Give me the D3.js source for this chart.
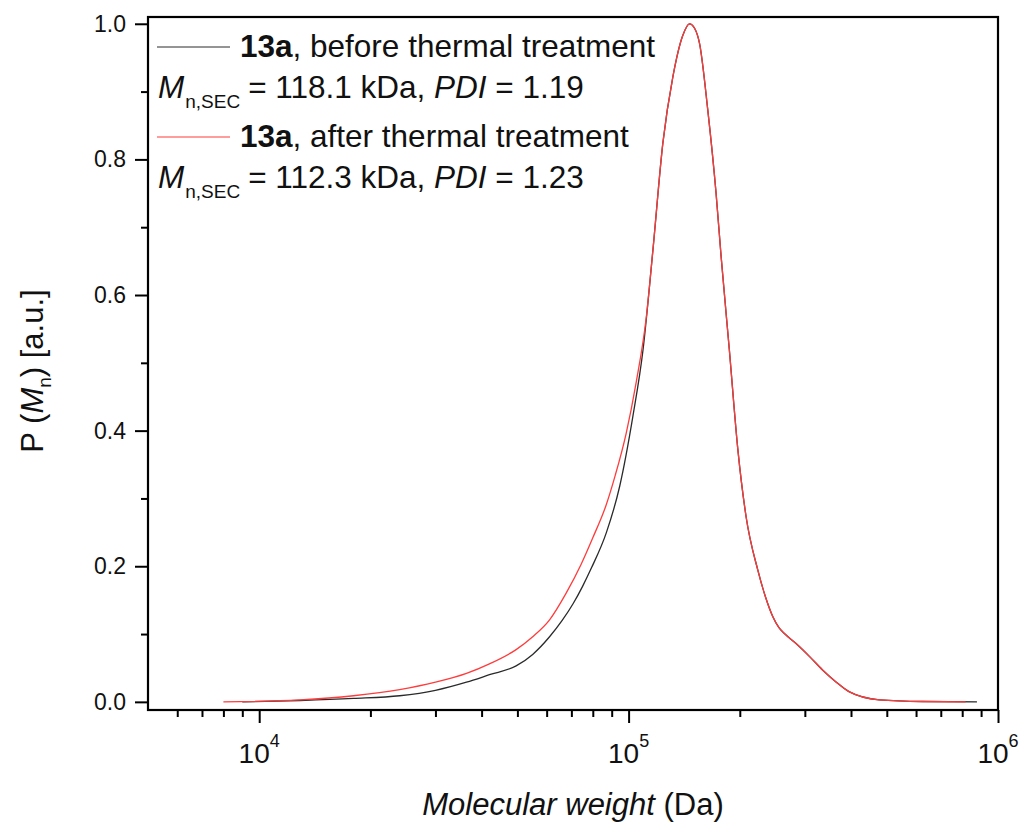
<!DOCTYPE html>
<html>
<head>
<meta charset="utf-8">
<script src="https://cdn.jsdelivr.net/npm/d3@7"></script>
<style>
  body { margin: 0; background: #fff; }
  svg { font-family: "Liberation Sans", Arial, sans-serif; }
</style>
</head>
<body>
<svg width="1021" height="824"></svg>
<script>
// molecular weight (Da) and normalised P(Mn)
var mwBefore = [9000, 12900, 18000, 24000, 30000, 36400, 42000, 49600, 55000, 61100, 66100, 70800, 75000, 79400, 87100, 94600, 102700, 109400, 116400, 123800, 131800, 140000, 146200, 151000, 155600, 163800, 172500, 178000, 187400, 197600, 208000, 223600, 235000, 245600, 255000, 265000, 284000, 310000, 335000, 365000, 395000, 477000, 624000, 877000];
var pBefore  = [0.000, 0.002, 0.005, 0.009, 0.017, 0.029, 0.040, 0.053, 0.070, 0.096, 0.120, 0.145, 0.170, 0.198, 0.250, 0.318, 0.421, 0.519, 0.667, 0.824, 0.922, 0.982, 1.000, 0.993, 0.971, 0.873, 0.750, 0.657, 0.519, 0.372, 0.273, 0.195, 0.154, 0.126, 0.110, 0.100, 0.086, 0.066, 0.047, 0.029, 0.015, 0.003, 0.0005, 0.000];

var mwAfter = [8000, 12900, 18000, 24000, 30000, 36400, 42000, 49600, 55000, 61100, 67700, 74400, 80000, 86900, 92000, 98400, 104900, 111700, 116400, 123800, 131800, 140000, 146200, 151000, 155600, 163800, 172500, 178000, 187400, 197600, 208000, 223600, 235000, 245600, 255000, 265000, 284000, 310000, 335000, 365000, 395000, 477000, 624000, 817000];
var pAfter  = [0.000, 0.003, 0.009, 0.018, 0.029, 0.042, 0.056, 0.077, 0.096, 0.121, 0.160, 0.203, 0.242, 0.290, 0.334, 0.395, 0.472, 0.568, 0.667, 0.824, 0.922, 0.982, 1.000, 0.993, 0.971, 0.873, 0.750, 0.657, 0.519, 0.372, 0.273, 0.195, 0.154, 0.126, 0.110, 0.100, 0.086, 0.066, 0.047, 0.029, 0.015, 0.003, 0.0005, 0.000];

var yMajor = [0, 0.2, 0.4, 0.6, 0.8, 1.0];
var yMinor = [0.1, 0.3, 0.5, 0.7, 0.9];
var xExponents = [4, 5, 6];

var legendNames = ["before thermal treatment", "after thermal treatment"];
var legendMn = ["118.1", "112.3"];
var legendPdi = ["1.19", "1.23"];
var lineColors = ["#2a2a2a", "#ff3b3b"];

var margin = {left: 148, right: 23, top: 17, bottom: 114};
var width = 1021, height = 824;

var svg = d3.select("svg");

var x = d3.scaleLog().domain([5000, 1e6]).range([margin.left, width - margin.right]);
var y = d3.scaleLinear().domain([-0.012, 1.01]).range([height - margin.bottom, margin.top]);

var xMinor = [];
[3, 4, 5].forEach(function(e) {
  for (var k = 2; k <= 9; k++) {
    var v = k * Math.pow(10, e);
    if (v > 5000 && v < 1e6) xMinor.push(v);
  }
});

// ticks
var axisBottomMajor = d3.axisBottom(x).tickValues(xExponents.map(function(e) { return Math.pow(10, e); }))
  .tickSize(13).tickSizeOuter(0).tickFormat("");
var axisBottomMinor = d3.axisBottom(x).tickValues(xMinor).tickSize(7).tickSizeOuter(0).tickFormat("");
var axisLeftMajor = d3.axisLeft(y).tickValues(yMajor).tickSize(13).tickSizeOuter(0).tickPadding(9)
  .tickFormat(d3.format(".1f"));
var axisLeftMinor = d3.axisLeft(y).tickValues(yMinor).tickSize(7).tickSizeOuter(0).tickFormat("");

var bottomY = height - margin.bottom;

svg.append("g").attr("transform", "translate(0," + bottomY + ")").call(axisBottomMajor);
svg.append("g").attr("transform", "translate(0," + bottomY + ")").call(axisBottomMinor);
svg.append("g").attr("transform", "translate(" + margin.left + ",0)").call(axisLeftMajor);
svg.append("g").attr("transform", "translate(" + margin.left + ",0)").call(axisLeftMinor);

svg.selectAll(".domain").remove();
svg.selectAll(".tick line").attr("stroke", "#000").attr("stroke-width", 2);
svg.selectAll(".tick text").attr("font-size", 23).attr("fill", "#111")
  .attr("font-family", "Liberation Sans, Arial, sans-serif");

// x tick labels 10^n
var xl = svg.append("g").selectAll("text").data(xExponents).enter().append("text")
  .attr("x", function(d) { return x(Math.pow(10, d)); })
  .attr("y", 763)
  .attr("text-anchor", "middle")
  .attr("font-size", 28)
  .attr("fill", "#111");
xl.append("tspan").text("10");
xl.append("tspan").attr("font-size", 18).attr("dy", -16).text(function(d) { return d; });

// curves
var line = d3.line()
  .x(function(d) { return x(d[0]); })
  .y(function(d) { return y(d[1]); })
  .curve(d3.curveMonotoneX);

var series = [d3.zip(mwBefore, pBefore), d3.zip(mwAfter, pAfter)];

var plot = svg.append("g");
plot.selectAll("path").data(series).enter().append("path")
  .attr("d", line)
  .attr("fill", "none")
  .attr("stroke", function(d, i) { return lineColors[i]; })
  .attr("stroke-width", 1.3);

// frame
svg.append("rect")
  .attr("x", margin.left).attr("y", margin.top)
  .attr("width", width - margin.right - margin.left)
  .attr("height", height - margin.bottom - margin.top)
  .attr("fill", "none").attr("stroke", "#000").attr("stroke-width", 2.2);

// legend
var rowY = [57, 147];
legendNames.forEach(function(name, i) {
  var g = svg.append("g");
  g.append("line")
    .attr("x1", 157).attr("x2", 230)
    .attr("y1", rowY[i] - 10).attr("y2", rowY[i] - 10)
    .attr("stroke", lineColors[i]).attr("stroke-width", i ? 1.2 : 1);
  var t = g.append("text").attr("x", 240).attr("y", rowY[i]).attr("font-size", 31.5).attr("fill", "#111");
  t.append("tspan").attr("font-weight", "bold").text("13a");
  t.append("tspan").text(", " + name);

  var t2 = g.append("text").attr("x", 158).attr("y", rowY[i] + 41).attr("font-size", 31.5).attr("fill", "#111");
  t2.append("tspan").attr("font-style", "italic").text("M");
  t2.append("tspan").attr("font-size", 19).attr("dy", 10).attr("dx", 1).text("n,SEC");
  t2.append("tspan").attr("dy", -10).attr("dx", 8).text("= " + legendMn[i] + " kDa, ");
  t2.append("tspan").attr("font-style", "italic").text("PDI");
  t2.append("tspan").text(" = " + legendPdi[i]);
});

// axis titles
var xt = svg.append("text")
  .attr("x", (margin.left + width - margin.right) / 2)
  .attr("y", 815)
  .attr("text-anchor", "middle")
  .attr("font-size", 31)
  .attr("fill", "#111");
xt.append("tspan").attr("font-style", "italic").text("Molecular weight");
xt.append("tspan").text(" (Da)");

var yt = svg.append("text")
  .attr("transform", "translate(43,371) rotate(-90)")
  .attr("text-anchor", "middle")
  .attr("font-size", 31)
  .attr("fill", "#111");
yt.append("tspan").text("P (");
yt.append("tspan").attr("font-style", "italic").text("M");
yt.append("tspan").attr("font-size", 19).attr("dy", 8).text("n");
yt.append("tspan").attr("dy", -8).text(") [a.u.]");
</script>
</body>
</html>
